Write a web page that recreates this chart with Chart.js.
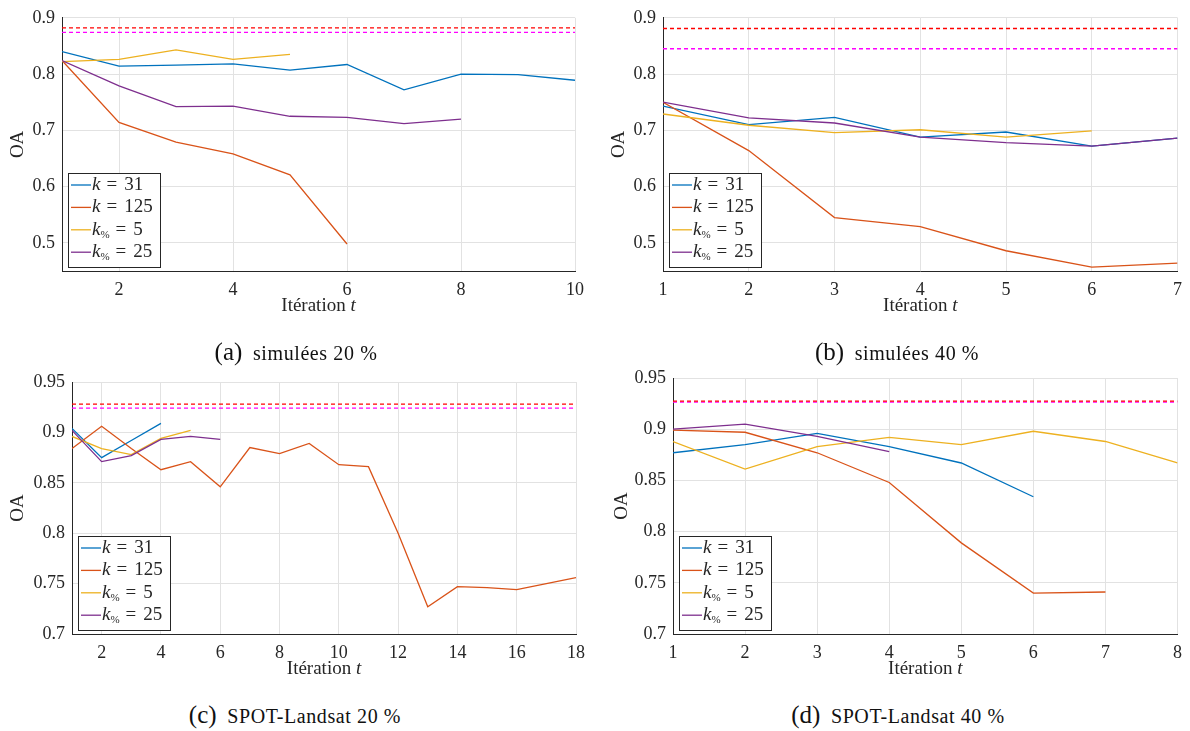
<!DOCTYPE html>
<html>
<head>
<meta charset="utf-8">
<script src="https://cdn.jsdelivr.net/npm/chart.js@4.4.1/dist/chart.umd.min.js"></script>
<style>
  body { margin: 0; background: #fff; width: 1190px; height: 731px; position: relative; overflow: hidden; }
  .panel { position: absolute; }
  .cap { position: absolute; font-family: "Liberation Serif", serif; font-size: 20px; color: #111;
         letter-spacing: 0.6px; transform: translate(-50%, -50%); white-space: nowrap; }
  .cap span { font-size: 25px; margin-right: 5px; letter-spacing: 0; }
</style>
</head>
<body>
<div class="panel" style="left:0;top:0"><canvas id="chartA" width="595" height="325"></canvas></div>
<div class="panel" style="left:600px;top:0"><canvas id="chartB" width="590" height="325"></canvas></div>
<div class="panel" style="left:0;top:360px"><canvas id="chartC" width="595" height="325"></canvas></div>
<div class="panel" style="left:600px;top:360px"><canvas id="chartD" width="590" height="325"></canvas></div>

<div class="cap" style="left:296px;top:352px"><span>(a)</span> simulées 20 %</div>
<div class="cap" style="left:897px;top:352px"><span>(b)</span> simulées 40 %</div>
<div class="cap" style="left:295px;top:715px"><span>(c)</span> SPOT-Landsat 20 %</div>
<div class="cap" style="left:898px;top:715px"><span>(d)</span> SPOT-Landsat 40 %</div>

<script>
// legend labels (k, k%)
const legendText = ['k = 31', 'k = 125', 'k% = 5', 'k% = 25'];
const lineColors = ['#0072BD', '#D95319', '#EDB120', '#7E2F8E'];
const refColors = ['#FF0000', '#FF00FF'];

// (a) simulées 20 %
const aK31  = [0.840, 0.814, 0.816, 0.818, 0.807, 0.817, 0.772, 0.800, 0.799, 0.789];
const aK125 = [0.824, 0.714, 0.679, 0.658, 0.621, 0.498];
const aKp5  = [0.822, 0.826, 0.843, 0.826, 0.835];
const aKp25 = [0.824, 0.779, 0.742, 0.743, 0.725, 0.723, 0.712, 0.720];
const aRef  = [0.882, 0.874];
const aXTicks = [2, 4, 6, 8, 10];
const aYTicks = [0.5, 0.6, 0.7, 0.8, 0.9];

// (b) simulées 40 %
const bK31  = [0.743, 0.710, 0.723, 0.688, 0.697, 0.672, 0.686];
const bK125 = [0.750, 0.664, 0.545, 0.529, 0.486, 0.457, 0.464];
const bKp5  = [0.729, 0.709, 0.696, 0.701, 0.688, 0.699];
const bKp25 = [0.750, 0.722, 0.713, 0.688, 0.678, 0.672, 0.686];
const bRef  = [0.881, 0.845];
const bXTicks = [1, 2, 3, 4, 5, 6, 7];
const bYTicks = [0.5, 0.6, 0.7, 0.8, 0.9];

// (c) SPOT-Landsat 20 %
const cK31  = [0.904, 0.875, 0.892, 0.909];
const cK125 = [0.884, 0.906, 0.884, 0.863, 0.871, 0.846, 0.885, 0.879, 0.889,
               0.868, 0.866, 0.800, 0.727, 0.747, 0.746, 0.744, 0.750, 0.756];
const cKp5  = [0.896, 0.884, 0.878, 0.894, 0.902];
const cKp25 = [0.902, 0.871, 0.877, 0.893, 0.896, 0.893];
const cRef  = [0.928, 0.924];
const cXTicks = [2, 4, 6, 8, 10, 12, 14, 16, 18];
const cYTicks = [0.7, 0.75, 0.8, 0.85, 0.9, 0.95];

// (d) SPOT-Landsat 40 %
const dK31  = [0.877, 0.885, 0.896, 0.883, 0.867, 0.834];
const dK125 = [0.899, 0.897, 0.877, 0.848, 0.789, 0.740, 0.741];
const dKp5  = [0.888, 0.861, 0.883, 0.892, 0.885, 0.898, 0.888, 0.867];
const dKp25 = [0.900, 0.905, 0.893, 0.878];
const dRef  = [0.9275, 0.9265];
const dXTicks = [1, 2, 3, 4, 5, 6, 7, 8];
const dYTicks = [0.7, 0.75, 0.8, 0.85, 0.9, 0.95];

const serif = '"Liberation Serif", serif';
const textColor = '#262626';

// draws "k = 31" / "k% = 5" with italic k and subscript %
function drawKLabel(ctx, x, y, text) {
  ctx.textBaseline = 'middle';
  ctx.textAlign = 'left';
  ctx.font = 'italic 19px ' + serif;
  ctx.fillText('k', x, y);
  x += ctx.measureText('k').width;
  let rest = text.slice(1);
  if (rest[0] === '%') {
    ctx.font = '11px ' + serif;
    ctx.fillText('%', x, y + 5);
    x += ctx.measureText('%').width;
    rest = rest.slice(1);
  }
  const num = rest.split('=')[1].trim();
  ctx.font = '19px ' + serif;
  x += 6;
  ctx.fillText('=', x, y);
  x += ctx.measureText('=').width + 7;
  ctx.fillText(num, x, y);
}

const mathPlugin = {
  id: 'mathPlugin',
  afterDraw(chart) {
    const ctx = chart.ctx;
    const area = chart.chartArea;
    ctx.save();
    ctx.fillStyle = textColor;

    // x axis title
    ctx.font = '19px ' + serif;
    const w1 = ctx.measureText('Itération ').width;
    ctx.font = 'italic 19px ' + serif;
    const w2 = ctx.measureText('t').width;
    let tx = (area.left + area.right) / 2 - (w1 + w2) / 2;
    const ty = area.bottom + 35;
    ctx.textBaseline = 'middle';
    ctx.textAlign = 'left';
    ctx.font = '19px ' + serif;
    ctx.fillText('Itération ', tx, ty);
    ctx.font = 'italic 19px ' + serif;
    ctx.fillText('t', tx + w1, ty);

    // legend box
    const bw = 92, bh = 94;
    const bx = area.left + 6, by = area.bottom - 4 - bh;
    ctx.fillStyle = '#fff';
    ctx.fillRect(bx, by, bw, bh);
    ctx.strokeStyle = '#262626';
    ctx.lineWidth = 1;
    ctx.strokeRect(bx + 0.5, by + 0.5, bw, bh);
    legendText.forEach((t, i) => {
      const ry = by + 12 + i * 22.4;
      ctx.strokeStyle = lineColors[i];
      ctx.lineWidth = 1.3;
      ctx.beginPath();
      ctx.moveTo(bx + 3, ry);
      ctx.lineTo(bx + 23, ry);
      ctx.stroke();
      ctx.fillStyle = textColor;
      drawKLabel(ctx, bx + 24, ry, t);
    });
    ctx.restore();
  }
};

function makePanel(id, series, refs, xTicks, yTicks, xMin, xMax, yMin, yMax, lay) {
  const datasets = series.map((vals, i) => ({
    label: legendText[i],
    data: vals.map((v, j) => ({ x: j + 1, y: v })),
    borderColor: lineColors[i],
    borderWidth: 1.3,
    pointRadius: 0,
    tension: 0,
    fill: false,
    order: 4 - i
  }));
  refs.forEach((r, i) => {
    datasets.push({
      label: 'ref' + (i + 1),
      data: [{ x: xMin, y: r }, { x: xMax, y: r }],
      borderColor: refColors[i],
      borderWidth: 1.3,
      borderDash: [4, 3],
      pointRadius: 0,
      fill: false,
      order: 10
    });
  });

  return new Chart(document.getElementById(id), {
    type: 'line',
    data: { datasets },
    plugins: [mathPlugin],
    options: {
      responsive: false,
      animation: false,
      layout: { padding: { left: 0, top: lay.top, right: lay.right, bottom: 0 } },
      plugins: { legend: { display: false }, tooltip: { enabled: false } },
      scales: {
        x: {
          type: 'linear',
          min: xMin, max: xMax,
          afterBuildTicks: s => { s.ticks = xTicks.map(v => ({ value: v })); },
          afterFit: s => { s.height = lay.xh; },
          grid: { color: '#e2e2e2', drawTicks: false },
          border: { color: '#262626', width: 1 },
          ticks: { color: textColor, padding: 8, font: { family: serif, size: 18 }, maxRotation: 0 }
        },
        y: {
          min: yMin, max: yMax,
          afterBuildTicks: s => { s.ticks = yTicks.map(v => ({ value: v })); },
          afterFit: s => { s.width = lay.yw; },
          grid: { color: '#e2e2e2', drawTicks: false },
          border: { color: '#262626', width: 1 },
          ticks: { color: textColor, padding: 7, font: { family: serif, size: 18 },
                   callback: v => String(Math.round(v * 100) / 100) },
          title: { display: true, text: 'OA', color: textColor, font: { family: serif, size: 19 },
                   padding: { top: lay.tp, bottom: 0 } }
        }
      }
    }
  });
}

makePanel('chartA', [aK31, aK125, aKp5, aKp25], aRef, aXTicks, aYTicks, 1, 10, 0.45, 0.9,
  { top: 14, right: 20, xh: 54, yw: 62, tp: 7 });
makePanel('chartB', [bK31, bK125, bKp5, bKp25], bRef, bXTicks, bYTicks, 1, 7, 0.45, 0.9,
  { top: 10, right: 7, xh: 54, yw: 63, tp: 8 });
makePanel('chartC', [cK31, cK125, cKp5, cKp25], cRef, cXTicks, cYTicks, 1, 18, 0.7, 0.95,
  { top: 22, right: 19, xh: 51, yw: 72, tp: 7 });
makePanel('chartD', [dK31, dK125, dKp5, dKp25], dRef, dXTicks, dYTicks, 1, 8, 0.7, 0.95,
  { top: 18, right: 7, xh: 51, yw: 73, tp: 11 });
</script>
</body>
</html>
